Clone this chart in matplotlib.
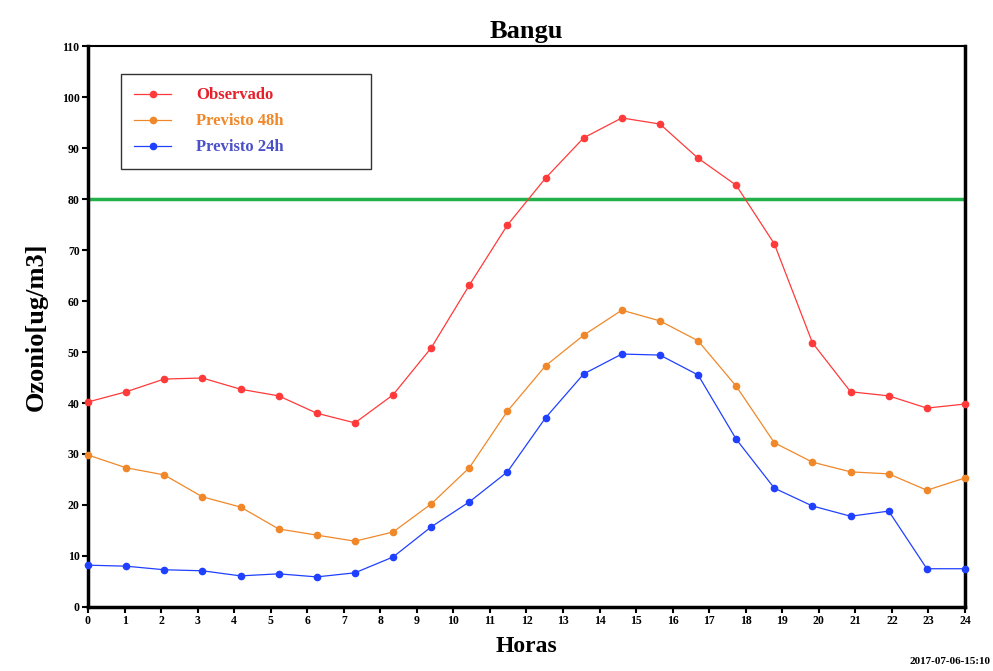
import numpy as np
import matplotlib
matplotlib.use('Agg')
import matplotlib.pyplot as plt

# hours (24 samples spread over the 0-24 axis)
horas = np.linspace(0, 24, 24)

observado = [40.2, 42.2, 44.7, 44.9, 42.7, 41.4, 38.0, 36.1, 41.6, 50.8, 63.1, 74.9,
             84.1, 92.0, 95.9, 94.7, 88.0, 82.7, 71.2, 51.8, 42.2, 41.4, 39.0, 39.8]
previsto_48h = [29.8, 27.3, 25.9, 21.6, 19.6, 15.3, 14.1, 12.9, 14.7, 20.2, 27.3, 38.4,
                47.3, 53.3, 58.2, 56.1, 52.2, 43.3, 32.2, 28.4, 26.5, 26.1, 22.9, 25.3]
previsto_24h = [8.2, 8.0, 7.3, 7.1, 6.1, 6.5, 5.9, 6.7, 9.8, 15.7, 20.6, 26.5,
                37.1, 45.7, 49.6, 49.4, 45.5, 32.9, 23.3, 19.8, 17.8, 18.8, 7.5, 7.5]
limite = 80
xticks = list(range(0, 25))
yticks = list(range(0, 111, 10))

serif = ['Liberation Serif', 'DejaVu Serif']

fig = plt.figure(figsize=(9.93, 6.71), dpi=100)
ax = fig.add_axes([0.0886, 0.0954, 0.8832, 0.836])

ax.axhline(limite, color='#22b04a', lw=2.5, zorder=2)
ax.plot(horas, observado, color='#ff3a3a', lw=0.9, marker='o', ms=4.5, label='Observado', clip_on=False, zorder=3)
ax.plot(horas, previsto_48h, color='#f0882a', lw=0.9, marker='o', ms=4.5, label='Previsto 48h', clip_on=False, zorder=3)
ax.plot(horas, previsto_24h, color='#2040ff', lw=0.9, marker='o', ms=4.5, label='Previsto 24h', clip_on=False, zorder=3)

ax.set_xlim(0, 24)
ax.set_ylim(0, 110)
ax.set_xticks(xticks)
ax.set_yticks(yticks)
ax.spines['top'].set_linewidth(1.5)
ax.spines['left'].set_linewidth(2.5)
ax.spines['bottom'].set_linewidth(2.5)
ax.spines['right'].set_linewidth(2.5)
ax.tick_params(direction='out', length=4, width=1.5, pad=2)
for lab in ax.get_xticklabels() + ax.get_yticklabels():
    lab.set_family(serif)
    lab.set_fontweight('bold')
    lab.set_fontsize(8.5)

ax.set_title('Bangu', family=serif, fontweight='bold', fontsize=19, pad=6)
ax.set_xlabel('Horas', family=serif, fontweight='bold', fontsize=17, labelpad=6)
ax.set_ylabel('Ozonio[ug/m3]', family=serif, fontweight='bold', fontsize=19, labelpad=10)

leg = ax.legend(loc='upper left', bbox_to_anchor=(0.0376, 0.7825, 0.285, 0.1675), mode='expand',
                borderaxespad=0, fancybox=False, edgecolor='#333333', framealpha=1,
                prop={'family': serif, 'weight': 'bold', 'size': 12},
                handlelength=2.2, handletextpad=1.5, labelspacing=0.6, borderpad=0.8)
leg.get_frame().set_linewidth(1.0)
for txt, c in zip(leg.get_texts(), ['#e8202a', '#f0882a', '#4a50c8']):
    txt.set_color(c)

fig.text(0.997, 0.008, '2017-07-06-15:10', ha='right', va='bottom',
         family=serif, fontweight='bold', fontsize=8)

fig.savefig('out.png', dpi=100)
